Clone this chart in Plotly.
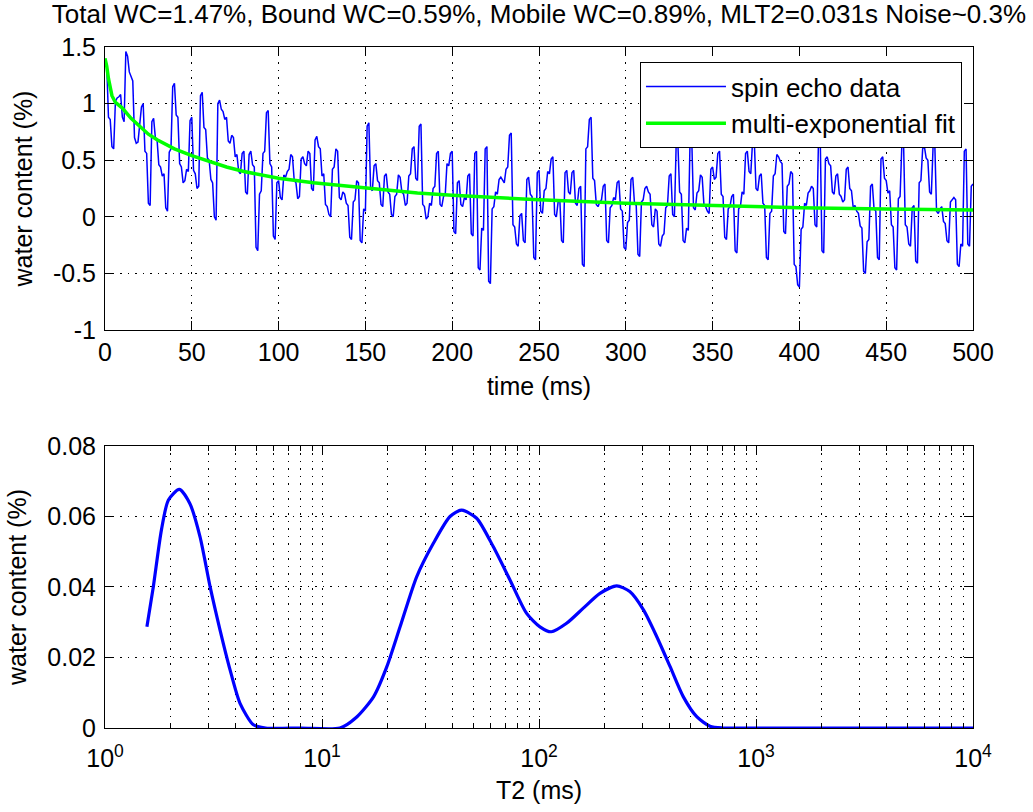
import plotly.graph_objects as go

title_text = "Total WC=1.47%, Bound WC=0.59%, Mobile WC=0.89%, MLT2=0.031s Noise~0.3%"

# ---- top panel: spin echo decay (1 ms echo spacing, water content in %) ----
echo_time_ms = list(range(0, 501))
echo_signal = [
    1.38, 1.34, 0.88, 0.86, 0.62, 0.60, 1.02, 1.05, 1.06, 1.08, 0.88, 0.84, 1.46, 1.42, 1.28, 1.24, 1.20, 0.70, 0.65, 0.66,
    0.82, 0.97, 1.00, 0.58, 0.56, 0.12, 0.10, 0.84, 0.87, 0.70, 0.68, 0.46, 0.44, 0.36, 0.38, 0.08, 0.05, 0.57, 0.60, 1.15,
    1.18, 0.90, 0.88, 0.47, 0.44, 0.30, 0.32, 0.42, 0.40, 0.85, 0.88, 0.41, 0.38, 0.25, 0.27, 1.07, 1.10, 0.79, 0.77, 0.52,
    0.50, 0.33, 0.30, 0.00, -0.03, 1.00, 1.03, 0.95, 0.93, 0.86, 0.88, 0.67, 0.65, 0.72, 0.70, 0.53, 0.55, 0.40, 0.38, 0.56,
    0.58, 0.22, 0.20, 0.55, 0.58, 0.46, 0.44, -0.27, -0.30, 0.20, 0.23, 0.56, 0.58, 0.92, 0.94, 0.47, 0.44, -0.17, -0.20, 0.30,
    0.32, 0.17, 0.15, 0.37, 0.35, 0.40, 0.42, 0.55, 0.53, 0.32, 0.30, 0.16, 0.18, 0.51, 0.53, 0.47, 0.45, 0.58, 0.56, 0.25,
    0.23, 0.68, 0.71, 0.62, 0.60, 0.36, 0.38, 0.11, 0.09, 0.02, 0.00, 0.42, 0.44, 0.60, 0.58, 0.17, 0.15, 0.22, 0.20, 0.12,
    0.10, -0.18, -0.20, 0.13, 0.15, 0.32, 0.30, -0.21, -0.23, 0.07, 0.05, 0.80, 0.83, 0.25, 0.23, 0.45, 0.47, 0.32, 0.30, 0.11,
    0.09, 0.36, 0.38, 0.22, 0.20, 0.02, 0.00, 0.18, 0.20, 0.37, 0.35, 0.22, 0.20, 0.10, 0.12, 0.36, 0.38, 0.60, 0.62, 0.34,
    0.32, 0.80, 0.82, 0.11, 0.09, -0.02, 0.00, 0.12, 0.10, 0.25, 0.27, 0.56, 0.58, 0.11, 0.09, 0.18, 0.20, 0.47, 0.45, 0.56,
    0.58, -0.13, -0.15, 0.30, 0.32, 0.11, 0.09, 0.17, 0.15, 0.36, 0.38, -0.15, -0.17, 0.56, 0.58, -0.45, -0.47, -0.10, -0.12, 0.60,
    0.62, -0.57, -0.59, 0.07, 0.09, 0.22, 0.20, 0.33, 0.35, 0.32, 0.30, 0.42, 0.44, 0.72, 0.74, -0.07, -0.09, -0.24, -0.26, 0.01,
    0.03, -0.21, -0.23, 0.33, 0.35, 0.20, 0.18, -0.36, -0.38, 0.39, 0.41, 0.05, 0.03, 0.23, 0.25, 0.40, 0.38, 0.51, 0.53, 0.02,
    0.00, 0.13, 0.15, -0.21, -0.23, 0.39, 0.41, 0.22, 0.20, 0.39, 0.41, 0.12, 0.10, 0.25, 0.27, -0.42, -0.44, 0.60, 0.62, 0.86,
    0.88, 0.34, 0.32, 0.11, 0.09, 0.13, 0.15, 0.27, 0.29, -0.21, -0.23, 0.08, 0.10, 0.17, 0.15, 0.30, 0.32, 0.07, 0.05, -0.27,
    -0.29, -0.05, -0.03, 0.33, 0.35, 0.12, 0.10, -0.33, -0.35, 0.13, 0.15, 0.25, 0.27, 0.22, 0.20, -0.07, -0.09, 0.07, 0.05, -0.24,
    -0.26, -0.17, -0.15, 0.08, 0.10, 0.36, 0.38, 0.02, 0.00, 0.63, 0.65, 0.22, 0.20, -0.21, -0.23, -0.10, -0.12, 0.66, 0.68, 0.08,
    0.06, 0.21, 0.23, 0.37, 0.35, 0.11, 0.09, 0.05, 0.03, 0.42, 0.44, 0.33, 0.35, 0.56, 0.58, 0.20, 0.18, -0.18, -0.20, 0.07,
    0.09, 0.18, 0.20, -0.30, -0.32, 0.07, 0.09, 0.22, 0.20, 0.56, 0.58, 0.40, 0.38, 0.66, 0.68, 0.25, 0.23, 0.36, 0.38, 0.12,
    0.10, -0.36, -0.38, 0.03, 0.05, 0.36, 0.38, 0.55, 0.53, 0.49, 0.47, -0.13, -0.15, 0.27, 0.29, 0.40, 0.38, -0.42, -0.44, -0.60,
    -0.62, -0.11, -0.09, 0.12, 0.10, 0.21, 0.23, 0.27, 0.25, -0.07, -0.09, 0.68, 0.70, -0.30, -0.32, 0.51, 0.53, 0.47, 0.45, 0.22,
    0.20, 0.36, 0.38, 0.20, 0.18, 0.13, 0.15, 0.42, 0.44, 0.25, 0.23, 0.08, 0.10, 0.05, 0.03, -0.08, -0.10, -0.48, -0.50, -0.22,
    -0.20, 0.27, 0.29, 0.07, 0.05, -0.36, -0.38, 0.51, 0.53, 0.34, 0.32, 0.21, 0.23, -0.07, -0.09, -0.45, -0.47, 0.16, 0.18, 0.63,
    0.65, -0.07, -0.09, -0.24, -0.26, 0.08, 0.10, -0.39, -0.41, 0.30, 0.32, 0.60, 0.62, 0.52, 0.50, 0.22, 0.20, 0.62, 0.64, 0.05,
    0.03, 0.07, 0.09, -0.04, -0.06, -0.21, -0.23, 0.13, 0.15, 0.17, 0.15, -0.42, -0.44, -0.24, -0.26, 0.58, 0.60, -0.24, -0.26, 0.27,
    0.29,
]

fit_time_ms = [0, 1, 2, 3, 4, 6, 8, 10, 15, 20, 25, 30, 40, 50, 60, 70, 80,
               100, 120, 140, 160, 180, 200, 250, 300, 350, 400, 450, 500]
fit_signal = [1.40, 1.33, 1.22, 1.13, 1.07, 1.01, 0.98, 0.96, 0.87, 0.80, 0.73,
              0.68, 0.60, 0.54, 0.49, 0.44, 0.40, 0.34, 0.30, 0.27, 0.235, 0.21,
              0.19, 0.15, 0.12, 0.10, 0.08, 0.07, 0.06]

# ---- bottom panel: T2 distribution ----
t2_ms = [1.56, 1.67, 1.82, 1.96, 2.20, 2.46, 2.74, 3.05, 3.39, 3.77, 4.19, 4.83,
         5.5, 8.0, 12.1, 14.5, 17.3, 19.9, 22.9, 27.3, 32.6, 38.9, 44.0, 51.6,
         61.6, 73.5, 87.7, 101, 114, 134, 160, 191, 228, 262, 303, 349, 402,
         462, 533, 614, 700, 1000, 2000, 5000, 10000]
t2_amp = [0.0287, 0.0401, 0.0562, 0.0647, 0.0677, 0.0637, 0.0543, 0.0401, 0.0278,
          0.0165, 0.0070, 0.0009, 0, 0, 0, 0.0032, 0.0089, 0.0174, 0.0287, 0.0429,
          0.0524, 0.0600, 0.0618, 0.0595, 0.0514, 0.0420, 0.0325, 0.0287, 0.0273,
          0.0297, 0.0340, 0.0382, 0.0403, 0.0387, 0.0335, 0.0259, 0.0174, 0.0089,
          0.0032, 0.0005, 0, 0, 0, 0, 0]

top_yticks = [-1, -0.5, 0, 0.5, 1, 1.5]
top_ytext = ["-1", "-0.5", "0", "0.5", "1", "1.5"]
bot_xticks = [1, 10, 100, 1000, 10000]
bot_xtext = ["10<sup>0</sup>", "10<sup>1</sup>", "10<sup>2</sup>", "10<sup>3</sup>", "10<sup>4</sup>"]
bot_minor = [m * d for d in (1, 10, 100, 1000) for m in range(2, 10)]

FONT = "Liberation Sans, Arial, sans-serif"
FS = 25
DOTS = "1.5px,6px"

fig = go.Figure()
fig.add_trace(go.Scatter(x=echo_time_ms, y=echo_signal, mode="lines",
                         line=dict(color="#0000ff", width=1.5),
                         name="spin echo data", xaxis="x", yaxis="y"))
fig.add_trace(go.Scatter(x=fit_time_ms, y=fit_signal, mode="lines",
                         line=dict(color="#00ff00", width=3.5),
                         name="multi-exponential fit", xaxis="x", yaxis="y"))
fig.add_trace(go.Scatter(x=t2_ms, y=t2_amp, mode="lines",
                         line=dict(color="#0000ff", width=3.2, shape="spline",
                                   smoothing=0.7),
                         showlegend=False, xaxis="x2", yaxis="y2"))

common = dict(showline=True, linecolor="black", linewidth=1, mirror="allticks",
              ticks="inside", ticklen=9, tickcolor="black", tickwidth=1,
              showgrid=True, gridcolor="black", griddash=DOTS, gridwidth=1,
              zeroline=False, tickfont=dict(family=FONT, size=FS, color="black"))

fig.update_layout(
    width=1033, height=812,
    margin=dict(l=105, r=60, t=47, b=84),
    paper_bgcolor="white", plot_bgcolor="white",
    font=dict(family=FONT, size=FS, color="black"),
    title=dict(text=title_text, x=0.5, xref="paper", xanchor="center",
               y=0.994, yref="container", yanchor="top",
               font=dict(family=FONT, size=26, color="black")),
    xaxis=dict(domain=[0, 1], anchor="y", range=[0, 500], dtick=50, tick0=0,
               ticklabelstandoff=0,
               title=dict(text="time (ms)", standoff=12,
                          font=dict(family=FONT, size=FS)), **common),
    yaxis=dict(domain=[0.5844, 1], anchor="x", range=[-1, 1.5],
               tickvals=top_yticks, ticktext=top_ytext, ticklabelstandoff=3,
               title=dict(text="water content (%)", standoff=13,
                          font=dict(family=FONT, size=FS)), **common),
    xaxis2=dict(domain=[0, 1], anchor="y2", type="log", range=[0, 4],
                tickvals=bot_xticks, ticktext=bot_xtext, ticklabelstandoff=8,
                minor=dict(tickvals=bot_minor, ticks="inside", ticklen=5,
                           tickcolor="black", showgrid=True, gridcolor="black",
                           griddash=DOTS, gridwidth=1),
                title=dict(text="T2 (ms)", standoff=10,
                           font=dict(family=FONT, size=FS)), **common),
    yaxis2=dict(domain=[0, 0.4141], anchor="x2", range=[0, 0.08], dtick=0.02,
                tick0=0, ticklabelstandoff=3,
                title=dict(text="water content (%)", standoff=13,
                           font=dict(family=FONT, size=FS)), **common),
    legend=dict(x=0.9873, y=0.978, xanchor="right", yanchor="top",
                bgcolor="white", bordercolor="black", borderwidth=1,
                font=dict(family=FONT, size=26, color="black"),
                itemwidth=80, tracegroupgap=0),
)

fig.write_html("out.html", config={"displayModeBar": False},
               post_script="document.body.style.margin='0px';")
